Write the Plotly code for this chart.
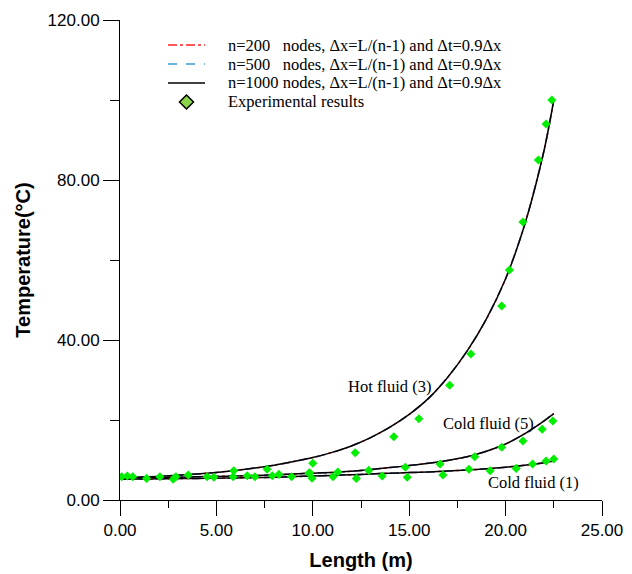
import plotly.graph_objects as go

# ---- data ----
curve_x = [0, 1, 2, 3, 4, 5, 6, 7, 8, 9, 10, 11, 12, 13, 14, 15, 16, 17, 18, 19, 20, 21, 22, 22.5]
hot3_T = [5.5, 5.7, 5.9, 6.2, 6.5, 6.9, 7.4, 8.0, 8.7, 9.6, 10.6, 11.9, 13.5, 15.6, 18.2, 21.4, 25.4, 30.7, 37.2, 45.2, 55.3, 69.0, 87.5, 100.0]
cold5_T = [5.6, 5.6, 5.7, 5.7, 5.8, 5.9, 6.0, 6.1, 6.3, 6.5, 6.7, 6.9, 7.2, 7.6, 8.1, 8.6, 9.2, 9.9, 10.8, 12.2, 14.0, 16.6, 19.8, 21.6]
cold1_T = [5.2, 5.25, 5.3, 5.35, 5.4, 5.45, 5.5, 5.6, 5.7, 5.85, 6.0, 6.15, 6.3, 6.5, 6.7, 6.85, 7.0, 7.25, 7.5, 7.8, 8.2, 8.7, 9.3, 9.75]

exp_x = [0.09, 0.38, 0.66, 1.38, 2.07, 2.76, 2.9, 3.54, 4.52, 4.87, 5.87, 5.9, 6.6, 7.0, 7.63, 7.9, 8.24, 8.9,
         9.84, 9.96, 10.0, 9.8, 11.3, 12.9, 14.8, 16.6, 18.4, 19.8, 20.9, 21.9, 22.45,
         11.05, 12.26, 13.6, 14.9, 16.75, 18.1, 19.2, 20.55, 21.4, 22.1, 22.5,
         12.2, 14.2, 15.5, 17.1, 18.2, 19.8, 20.2, 20.9, 21.7, 22.1, 22.4]
exp_T = [5.83, 6.0, 5.83, 5.4, 5.83, 5.17, 5.83, 6.25, 5.83, 5.67, 5.83, 7.33, 6.08, 5.83, 7.67, 6.08, 6.4, 5.83,
         6.83, 5.42, 9.17, 6.7, 7.0, 7.4, 8.2, 9.0, 10.8, 13.2, 14.75, 17.7, 19.75,
         5.8, 5.4, 6.0, 5.7, 6.25, 7.7, 7.3, 7.9, 9.0, 9.75, 10.25,
         11.8, 15.8, 20.3, 28.7, 36.5, 48.5, 57.5, 69.5, 85.0, 94.0, 100.0]

series_names = ["n=200\u00a0\u00a0\u00a0nodes, \u0394x=L/(n-1) and \u0394t=0.9\u0394x",
                "n=500\u00a0\u00a0\u00a0nodes, \u0394x=L/(n-1) and \u0394t=0.9\u0394x",
                "n=1000 nodes, \u0394x=L/(n-1) and \u0394t=0.9\u0394x"]
exp_name = "Experimental results"

fluid_labels = ["Hot fluid (3)", "Cold fluid (5)", "Cold fluid (1)"]
label_x = [14.0, 19.1, 21.45]
label_T = [28.5, 19.2, 4.4]

x_ticks = [0, 5, 10, 15, 20, 25]
y_ticks = [0, 40, 80, 120]

# ---- figure ----
fig = go.Figure()
styles = [dict(color="#ff2020", dash="dashdot", width=1.5),
          dict(color="#3a9ad9", dash="dash", width=1.5),
          dict(color="black", dash="solid", width=1.5)]

for i, (name, st) in enumerate(zip(series_names, styles)):
    for j, T in enumerate([hot3_T, cold5_T, cold1_T]):
        fig.add_trace(go.Scatter(
            x=curve_x, y=T, mode="lines", name=name,
            line=dict(shape="spline", smoothing=0.8, **st),
            legendgroup=name, showlegend=False))

fig.add_trace(go.Scatter(x=exp_x, y=exp_T, mode="markers", name=exp_name, showlegend=False,
                         marker=dict(symbol="diamond", size=7, color="#00ee00")))

for t, lx, ly in zip(fluid_labels, label_x, label_T):
    fig.add_annotation(x=lx, y=ly, text=t, showarrow=False,
                       font=dict(family="Liberation Serif", size=16.5, color="black"))

# ---- hand-built legend (paper coordinates) ----
leg_x0, leg_x1, leg_tx = 0.0996, 0.1763, 0.2199
leg_rows = [0.9479, 0.9083, 0.8688, 0.8292]
for name, st, ry in zip(series_names, styles, leg_rows[:3]):
    fig.add_shape(type="line", xref="paper", yref="paper", x0=leg_x0, x1=leg_x1, y0=ry, y1=ry,
                  line=dict(color=st["color"], dash=st["dash"], width=1.5))
    fig.add_annotation(xref="paper", yref="paper", x=leg_tx, y=ry, text=name, showarrow=False,
                       xanchor="left", yanchor="middle",
                       font=dict(family="Liberation Serif", size=16.5, color="black"))
fig.add_shape(type="path", xref="paper", yref="paper", xsizemode="pixel", ysizemode="pixel",
              xanchor=(leg_x0 + leg_x1) / 2, yanchor=leg_rows[3],
              path="M 0 7 L 7 0 L 0 -7 L -7 0 Z",
              fillcolor="#8ad44a", line=dict(color="black", width=1.5))
fig.add_annotation(xref="paper", yref="paper", x=leg_tx, y=leg_rows[3], text=exp_name, showarrow=False,
                   xanchor="left", yanchor="middle",
                   font=dict(family="Liberation Serif", size=16.5, color="black"))

fig.update_layout(
    width=624, height=566,
    margin=dict(l=112, r=30, t=12, b=74, autoexpand=False),
    paper_bgcolor="white", plot_bgcolor="white",
    font=dict(family="Liberation Sans", color="black"),
    showlegend=False,
)
fig.update_xaxes(range=[0, 25], tickvals=x_ticks, tickformat=".2f", automargin=False,
                 showgrid=False, zeroline=False, showline=True, linecolor="black",
                 linewidth=1, ticks="outside", ticklen=15, tickcolor="black",
                 tickfont=dict(size=17),
                 minor=dict(dtick=2.5, ticks="outside", ticklen=7, tickcolor="black", showgrid=False),
                 title=dict(text="<b>Length (m)</b>", font=dict(size=20), standoff=13))
fig.update_yaxes(range=[0, 120], tickvals=y_ticks, tickformat=".2f", automargin=False,
                 showgrid=False, zeroline=False, showline=True, linecolor="black",
                 linewidth=1, ticks="outside", ticklen=16, tickcolor="black",
                 tickfont=dict(size=17),
                 minor=dict(dtick=20, ticks="outside", ticklen=9, tickcolor="black", showgrid=False),
                 title=dict(text="<b>Temperature(\u00b0C)</b>", font=dict(size=20), standoff=11))

fig.write_html("out.html")
